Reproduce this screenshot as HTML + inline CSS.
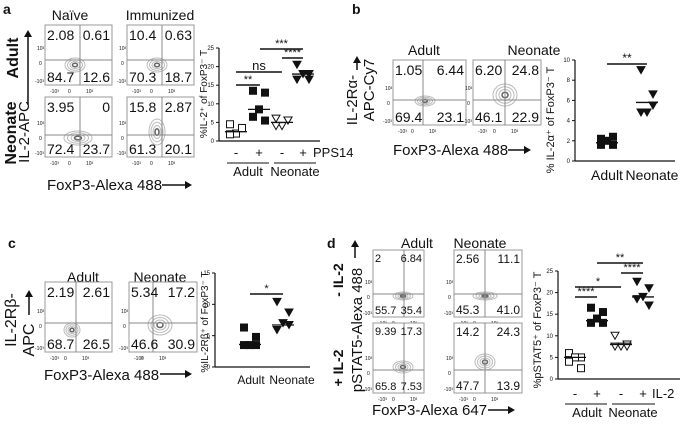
<!DOCTYPE html>
<html><head><meta charset="utf-8"><style>
body{margin:0;background:#fff}
#root{position:relative;width:683px;height:425px;overflow:hidden;font-family:"Liberation Sans",sans-serif}
svg{position:absolute;left:0;top:0}
</style></head><body>
<div id="root">
<svg id="s" width="683" height="425" viewBox="0 0 683 425" font-family="Liberation Sans, sans-serif"></svg>
</div>
<script>
// ---- data ----
const aCats=["Adult -","Adult +","Neonate -","Neonate +"];
const aAdultNeg=[4.5,3.5,2,1.8,3.5];
const aAdultPos=[13.5,13,8.5,6.5,5.5];
const aNeoNeg=[6,5.5,4,4,5.5];
const aNeoPos=[20.5,18,18,16.5,16.5];
const aMed=[2.5,8.5,5,18];
const aTicks=[0,5,10,15,20,25];
const bCats=["Adult","Neonate"];
const bAdult=[1.6,2.4,2.0,2.2,1.6];
const bNeo=[9,6.6,4.8,4.8,5.5];
const bMed=[1.8,5.8];
const bTicks=[0,2,4,6,8,10];
const cAdult=[6.3,4.8,3.5,3.5,3.5];
const cNeo=[10.4,8.7,7.0,5.9,6.7];
const cMed=[3.6,6.7];
const cTicks=[0,5,10,15];
const dAdultNeg=[6,5,5,4,2.5];
const dAdultPos=[16.5,15.5,14,13,13];
const dNeoNeg=[10,8,7.5,7.5,7.5];
const dNeoPos=[22.5,21,19,18.5,17];
const dMed=[5,13.5,8,19];
const dTicks=[0,5,10,15,20,25];

const S=document.getElementById('s');
const NS='http://www.w3.org/2000/svg';
function el(t,a,p){const e=document.createElementNS(NS,t);for(const k in a)e.setAttribute(k,a[k]);(p||S).appendChild(e);return e;}
function txt(x,y,s,size,opt){opt=opt||{};const e=el('text',{x:x,y:y,'font-size':size,'text-anchor':opt.anchor||'start','font-weight':opt.bold?'bold':'normal',fill:'#111'});
if(opt.rot)e.setAttribute('transform','rotate(-90 '+x+' '+y+')');e.textContent=s;


return e;}
function arrowV(x,y1,y2){el('line',{x1:x,y1:y1,x2:x,y2:y2+6,stroke:'#111','stroke-width':1.5});el('polygon',{points:(x-4)+','+(y2+7)+' '+(x+4)+','+(y2+7)+' '+x+','+y2,fill:'#111'});}
function arrowH(x1,x2,y){el('line',{x1:x1,y1:y,x2:x2-6,y2:y,stroke:'#111','stroke-width':1.5});el('polygon',{points:(x2-7)+','+(y-4)+' '+(x2-7)+','+(y+4)+' '+x2+','+y,fill:'#111'});}

function flow(x,y,w,h,vx,hy,nums,cx,cy,rx,ry,name,fs){
  fs=fs||14;
  const g=el('g',{});
  
  
  el('rect',{x:x,y:y,width:w,height:h,fill:'#fff',stroke:'#999','stroke-width':1},g);
  for(let i=4;i>=1;i--){el('ellipse',{cx:cx,cy:cy,rx:rx*i/4,ry:ry*i/4,fill:'none',stroke:i==1?'#666':'#bbb','stroke-width':i==1?1.6:1},g);}
  el('line',{x1:x+vx,y1:y,x2:x+vx,y2:y+h,stroke:'#888','stroke-width':1},g);
  el('line',{x1:x,y1:y+hy,x2:x+w,y2:y+hy,stroke:'#888','stroke-width':1},g);
  txt(x+2,y+fs+1,nums[0],fs,{name:'quadrant-ul'});
  txt(x+w-2,y+fs+1,nums[1],fs,{anchor:'end',name:'quadrant-ur'});
  txt(x+2,y+h-3,nums[2],fs,{name:'quadrant-ll'});
  txt(x+w-2,y+h-3,nums[3],fs,{anchor:'end',name:'quadrant-lr'});
  txt(x-8,y+hy-10,'10³',5,{name:'y-tick'});txt(x-6,y+hy+5,'0',5,{name:'y-tick'});txt(x-10,y+h-2,'-10³',5,{name:'y-tick'});
  txt(x+5,y+h+8,'-10³',5,{name:'x-tick'});txt(x+vx-12,y+h+8,'0',5,{name:'x-tick'});txt(x+vx+6,y+h+8,'10³',5,{name:'x-tick'});
}

function scatter(o){
  const {ax,y0,yT,vmax,xEnd,ticks,cats,groups,meds,syms,name}=o;
  const ys=v=>y0-(v/vmax)*(y0-yT);
  const g=el('g',{});
  
  
  el('line',{x1:ax,y1:yT,x2:ax,y2:y0,stroke:'#111','stroke-width':1.2},g);
  el('line',{x1:ax,y1:y0,x2:xEnd,y2:y0,stroke:'#111','stroke-width':1.2},g);
  ticks.forEach(t=>{el('line',{x1:ax-3,y1:ys(t),x2:ax,y2:ys(t),stroke:'#111'},g);txt(ax-5,ys(t)+2,String(t),6,{anchor:'end',name:'y-tick-label'});});
  groups.forEach((vals,i)=>{
    const cx=cats[i];
    const off=[-6,6,0,-6,6];
    vals.forEach((v,j)=>{
      const px=cx+off[j%5],py=ys(v),s=syms[i];
      let m;
      if(s[0]=='sq')m=el('rect',{x:px-3.5,y:py-3.5,width:7,height:7,fill:s[1]?'#111':'#fff',stroke:'#111','stroke-width':1},g);
      else m=el('polygon',{points:(px-4)+','+(py-3.5)+' '+(px+4)+','+(py-3.5)+' '+px+','+(py+3.5),fill:s[1]?'#111':'#fff',stroke:'#111','stroke-width':1},g);
      
      
    });
    const ml=el('line',{x1:cx-11,y1:ys(meds[i]),x2:cx+11,y2:ys(meds[i]),stroke:'#111','stroke-width':1.3},g);
    
    
  });
  return ys;
}
function sig(x1,x2,y,s,sz){el('line',{x1:x1,y1:y,x2:x2,y2:y,stroke:'#111','stroke-width':1.5});txt((x1+x2)/2,y-2,s,sz||11,{anchor:'middle',name:'significance-label'});}

// ===== Panel a =====
txt(3,14,'a',14,{bold:true,name:'panel-a-label'});
txt(70,20,'Naïve',14,{anchor:'middle',name:'naive-title'});
txt(160,20,'Immunized',14,{anchor:'middle',name:'immunized-title'});
flow(45,25,67,60,35,35,['2.08','0.61','84.7','12.6'],75,65,10,7,'flow-adult-naive');
flow(127,25,67,60,35,35,['10.4','0.63','70.3','18.7'],157,65,10,7,'flow-adult-immunized');
flow(45,97,67,60,35,38,['3.95','0','72.4','23.7'],78,138,14,7,'flow-neonate-naive');
flow(127,97,67,60,35,38,['15.8','2.87','61.3','20.1'],157,132,8,13,'flow-neonate-immunized');
txt(18,58,'Adult',16,{bold:true,rot:true,anchor:'middle',name:'adult-row-label'});
txt(16,133,'Neonate',16,{bold:true,rot:true,anchor:'middle',name:'neonate-row-label'});
txt(29,132,'IL-2-APC',15,{rot:true,anchor:'middle',name:'y-axis-title-a'});
arrowV(28,105,30);
txt(47,190,'FoxP3-Alexa 488',15,{name:'x-axis-title-a'});
arrowH(162,192,185);
scatter({ax:219,y0:141,yT:48,vmax:25,xEnd:320,ticks:aTicks,cats:[236,259,282,303],groups:[aAdultNeg,aAdultPos,aNeoNeg,aNeoPos],meds:aMed,syms:[['sq',0],['sq',1],['tri',0],['tri',1]],name:'scatter-a'});
sig(236,260,85,'**');sig(236,282,72,'ns',13);sig(260,303,49,'***');sig(282,303,58,'****');
[236,259,282,303].forEach((x,i)=>txt(x,157,i%2?'+':'-',13,{anchor:'middle',name:'treatment-sign'}));
txt(313,157,'PPS14',13,{name:'pps14-label'});
el('line',{x1:227,y1:163,x2:269,y2:163,stroke:'#111'});el('line',{x1:274,y1:163,x2:316,y2:163,stroke:'#111'});
txt(248,176,'Adult',13,{anchor:'middle',name:'adult-group-label'});txt(295,176,'Neonate',13,{anchor:'middle',name:'neonate-group-label'});
txt(207,94,'%IL-2⁺ of FoxP3⁻ T',10,{rot:true,anchor:'middle',name:'y-axis-title-scatter-a'});

// ===== Panel b =====
txt(352,14,'b',14,{bold:true,name:'panel-b-label'});
txt(424,55,'Adult',14,{anchor:'middle',name:'adult-title-b'});
txt(534,55,'Neonate',14,{anchor:'middle',name:'neonate-title-b'});
flow(393,60,73,65,30,40,['1.05','6.44','69.4','23.1'],425,101,10,5,'flow-b-adult');
flow(473,60,68,65,32,40,['6.20','24.8','46.1','22.9'],505,95,12,11,'flow-b-neonate');
txt(357,100,'IL-2Rα-',15,{rot:true,anchor:'middle',name:'y-axis-title-b1'});
arrowV(357,70,56);
txt(374,90,'APC-Cy7',15,{rot:true,anchor:'middle',name:'y-axis-title-b2'});
txt(393,155,'FoxP3-Alexa 488',15,{name:'x-axis-title-b'});
arrowH(508,531,150);
scatter({ax:575,y0:161,yT:60,vmax:10,xEnd:675,ticks:bTicks,cats:[607,647],groups:[bAdult,bNeo],meds:bMed,syms:[['sq',1],['tri',1]],name:'scatter-b'});
sig(607,647,64,'**',12);
txt(607,180,'Adult',14,{anchor:'middle',name:'adult-cat-b'});txt(652,180,'Neonate',14,{anchor:'middle',name:'neonate-cat-b'});
txt(554,120,'% IL-2α⁺ of FoxP3⁻ T',11,{rot:true,anchor:'middle',name:'y-axis-title-scatter-b'});

// ===== Panel c =====
txt(8,248,'c',14,{bold:true,name:'panel-c-label'});
txt(83,282,'Adult',14,{anchor:'middle',name:'adult-title-c'});
txt(160,282,'Neonate',14,{anchor:'middle',name:'neonate-title-c'});
flow(45,282,67,70,31,41,['2.19','2.61','68.7','26.5'],72,330,8,7,'flow-c-adult');
flow(129,282,68,70,24,41,['5.34','17.2','46.6','30.9'],160,325,12,10,'flow-c-neonate');
txt(16,320,'IL-2Rβ-',16,{rot:true,anchor:'middle',name:'y-axis-title-c1'});
txt(34,340,'APC',16,{rot:true,anchor:'middle',name:'y-axis-title-c2'});
arrowV(29,315,290);
txt(44,380,'FoxP3-Alexa 488',15,{name:'x-axis-title-c'});
arrowH(160,192,374);
scatter({ax:215,y0:367,yT:273,vmax:15,xEnd:310,ticks:cTicks,cats:[250,283],groups:[cAdult,cNeo],meds:cMed,syms:[['sq',1],['tri',1]],name:'scatter-c'});
sig(250,283,294,'*',11);
txt(251,384,'Adult',12,{anchor:'middle',name:'adult-cat-c'});txt(292,384,'Neonate',12,{anchor:'middle',name:'neonate-cat-c'});
txt(208,322,'%IL-2Rβ⁺ of FoxP3⁻ T',10,{rot:true,anchor:'middle',name:'y-axis-title-scatter-c'});

// ===== Panel d =====
txt(327,248,'d',14,{bold:true,name:'panel-d-label'});
txt(343,280,'- IL-2',14,{bold:true,rot:true,anchor:'middle',name:'minus-il2-row'});
txt(343,368,'+ IL-2',14,{bold:true,rot:true,anchor:'middle',name:'plus-il2-row'});
txt(417,248,'Adult',14,{anchor:'middle',name:'adult-title-d'});
txt(480,248,'Neonate',14,{anchor:'middle',name:'neonate-title-d'});
flow(373,250,51,67,31,44,['2','6.84','55.7','35.4'],403,296,10,4,'flow-d-adult-minus',11);
flow(454,250,68,67,31,44,['2.56','11.1','45.3','41.0'],485,296,12,4,'flow-d-neonate-minus',12);
flow(373,323,51,70,31,47,['9.39','17.3','65.8','7.53'],403,367,10,6,'flow-d-adult-plus',11);
flow(454,323,68,70,31,47,['14.2','24.3','47.7','13.9'],485,362,10,8,'flow-d-neonate-plus',12);
txt(362,330,'pSTAT5-Alexa 488',15,{rot:true,anchor:'middle',name:'y-axis-title-d'});
arrowV(355,258,240);
txt(372,415,'FoxP3-Alexa 647',15,{name:'x-axis-title-d'});
arrowH(488,515,410);
scatter({ax:558,y0:379,yT:271,vmax:25,xEnd:680,ticks:dTicks,cats:[575,597,621,643],groups:[dAdultNeg,dAdultPos,dNeoNeg,dNeoPos],meds:dMed,syms:[['sq',0],['sq',1],['tri',0],['tri',1]],name:'scatter-d'});
sig(575,597,297,'****');sig(575,621,287,'*');sig(597,643,263,'**');sig(621,643,273,'****');
[575,597,621,643].forEach((x,i)=>txt(x,398,i%2?'+':'-',13,{anchor:'middle',name:'treatment-sign'}));
txt(652,398,'IL-2',13,{name:'il2-label'});
el('line',{x1:565,y1:404,x2:607,y2:404,stroke:'#111'});el('line',{x1:612,y1:404,x2:655,y2:404,stroke:'#111'});
txt(587,417,'Adult',13,{anchor:'middle',name:'adult-group-label-d'});txt(633,417,'Neonate',13,{anchor:'middle',name:'neonate-group-label-d'});
txt(541,330,'%pSTAT5⁺ of FoxP3⁻ T',11,{rot:true,anchor:'middle',name:'y-axis-title-scatter-d'});
</script>
</body></html>
